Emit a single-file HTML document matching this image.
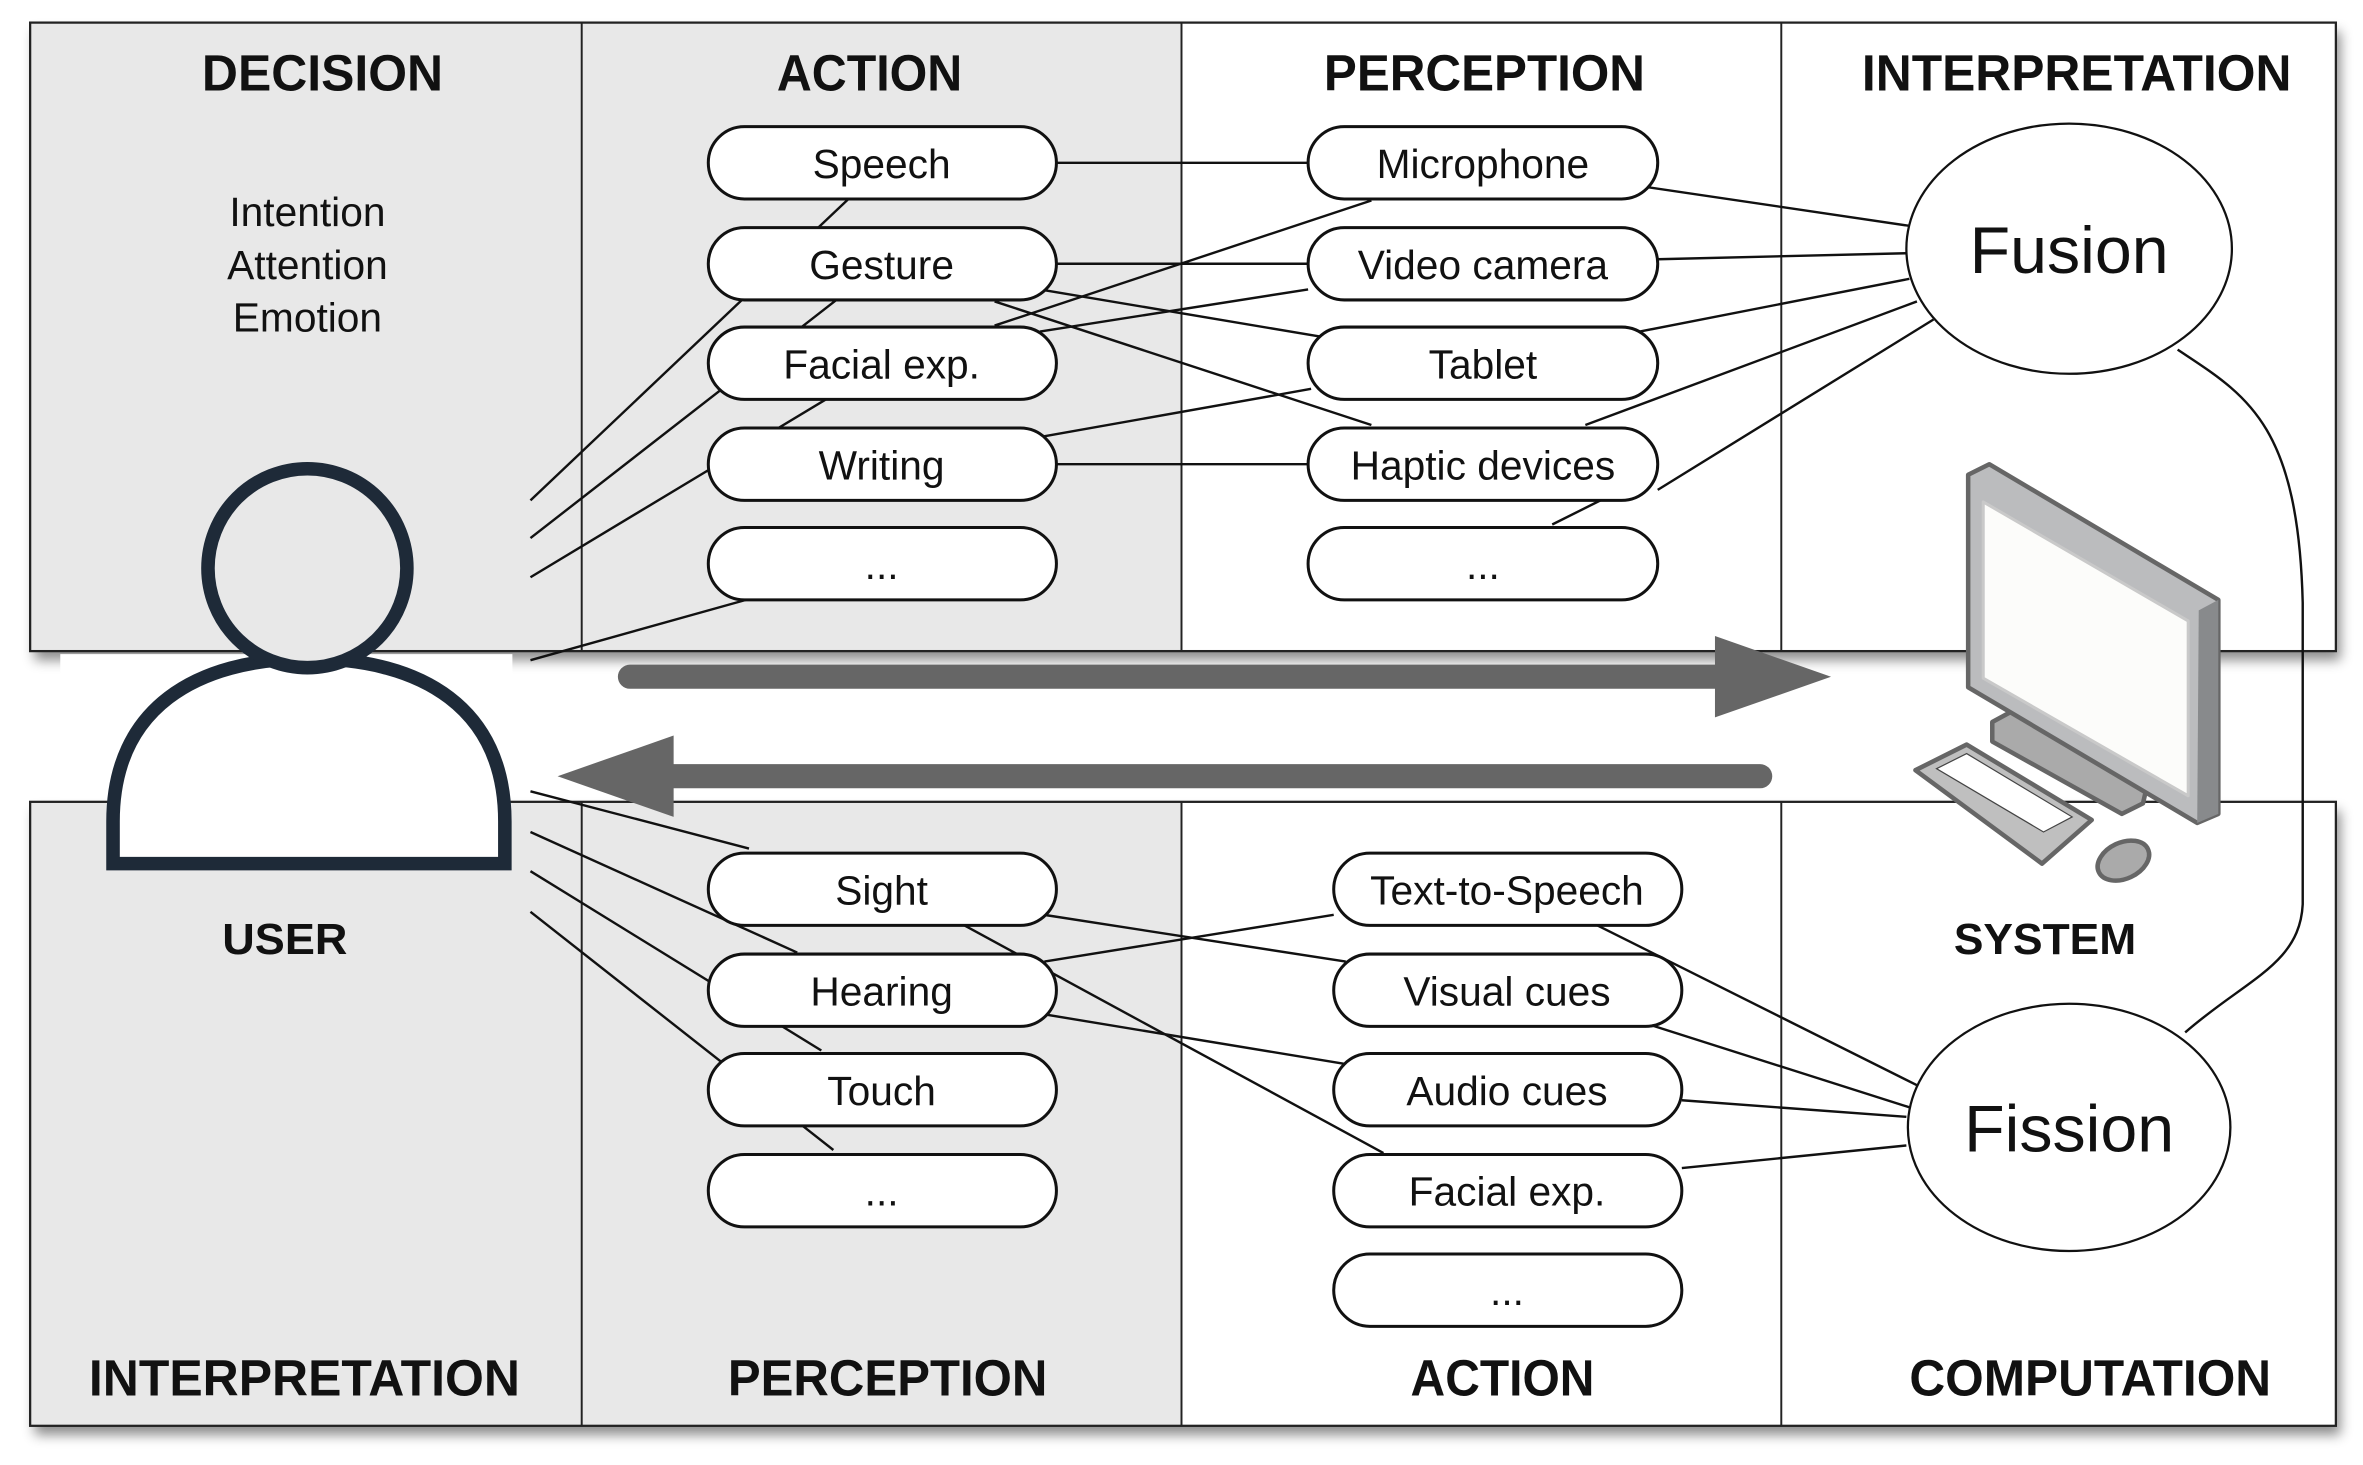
<!DOCTYPE html>
<html><head><meta charset="utf-8"><style>
html,body{margin:0;padding:0;background:#fff;width:2363px;height:1465px;overflow:hidden}
svg{display:block}
text{font-family:"Liberation Sans",sans-serif;fill:#111}
.h{font-weight:bold;font-size:34px;text-anchor:middle}
.p{font-size:27px;text-anchor:middle}
.l{stroke:#111;stroke-width:1.6;fill:none}
.pill{fill:#fff;stroke:#111;stroke-width:2}
</style></head><body>
<svg width="2363" height="1465" viewBox="0 0 1568 972" preserveAspectRatio="none" xmlns="http://www.w3.org/2000/svg">
<defs>
<filter id="sh" x="-5%" y="-5%" width="110%" height="120%"><feDropShadow dx="3" dy="6" stdDeviation="4" flood-color="#000" flood-opacity="0.45"/></filter>
</defs>
<g filter="url(#sh)">
<rect x="20" y="15" width="1530" height="417" fill="#fff"/>
</g>
<rect x="20" y="15" width="764" height="417" fill="#e8e8e8"/>
<rect x="20" y="15" width="1530" height="417" fill="none" stroke="#222" stroke-width="1.5"/>
<line x1="386" y1="15" x2="386" y2="432" stroke="#222" stroke-width="1.3"/>
<line x1="784" y1="15" x2="784" y2="432" stroke="#222" stroke-width="1.3"/>
<line x1="1182" y1="15" x2="1182" y2="432" stroke="#222" stroke-width="1.3"/>
<g filter="url(#sh)">
<rect x="20" y="532" width="1530" height="414" fill="#fff"/>
</g>
<rect x="20" y="532" width="764" height="414" fill="#e8e8e8"/>
<rect x="20" y="532" width="1530" height="414" fill="none" stroke="#222" stroke-width="1.5"/>
<line x1="386" y1="532" x2="386" y2="946" stroke="#222" stroke-width="1.3"/>
<line x1="784" y1="532" x2="784" y2="946" stroke="#222" stroke-width="1.3"/>
<line x1="1182" y1="532" x2="1182" y2="946" stroke="#222" stroke-width="1.3"/>
<rect x="40" y="434" width="300" height="96" fill="#fff"/>

<text class="h" x="214" y="60" textLength="160" lengthAdjust="spacingAndGlyphs">DECISION</text>
<text class="h" x="577" y="60" textLength="123" lengthAdjust="spacingAndGlyphs">ACTION</text>
<text class="h" x="985" y="60" textLength="213" lengthAdjust="spacingAndGlyphs">PERCEPTION</text>
<text class="h" x="1378" y="60" textLength="285" lengthAdjust="spacingAndGlyphs">INTERPRETATION</text>
<text class="h" x="202" y="926" textLength="286" lengthAdjust="spacingAndGlyphs">INTERPRETATION</text>
<text class="h" x="589" y="926" textLength="212" lengthAdjust="spacingAndGlyphs">PERCEPTION</text>
<text class="h" x="997" y="926" textLength="122" lengthAdjust="spacingAndGlyphs">ACTION</text>
<text class="h" x="1387" y="926" textLength="240" lengthAdjust="spacingAndGlyphs">COMPUTATION</text>
<text class="p" x="204" y="150">Intention</text>
<text class="p" x="204" y="185">Attention</text>
<text class="p" x="204" y="220">Emotion</text>
<text class="h" x="189" y="633" style="font-size:29px" textLength="83" lengthAdjust="spacingAndGlyphs">USER</text>
<text class="h" x="1357" y="633" style="font-size:29px" textLength="121" lengthAdjust="spacingAndGlyphs">SYSTEM</text>

<g class="l">
<line x1="352" y1="332" x2="563" y2="132"/>
<line x1="352" y1="357" x2="555" y2="199"/>
<line x1="352" y1="383" x2="548" y2="265"/>
<line x1="352" y1="438" x2="495" y2="398"/>
<line x1="701" y1="108" x2="868" y2="108"/>
<line x1="701" y1="175" x2="868" y2="175"/>
<line x1="690" y1="192" x2="880" y2="224"/>
<line x1="660" y1="200" x2="910" y2="282"/>
<line x1="660" y1="216" x2="910" y2="133"/>
<line x1="690" y1="220" x2="868" y2="192"/>
<line x1="690" y1="290" x2="870" y2="258"/>
<line x1="701" y1="308" x2="868" y2="308"/>
<line x1="1092" y1="124" x2="1268" y2="150"/>
<line x1="1100" y1="172" x2="1266" y2="168"/>
<line x1="1088" y1="220" x2="1267" y2="185"/>
<line x1="1052" y1="282" x2="1272" y2="200"/>
<line x1="1100" y1="325" x2="1283" y2="212"/>
<line x1="1030" y1="348" x2="1062" y2="332"/>
<line x1="352" y1="525" x2="497" y2="563"/>
<line x1="352" y1="552" x2="529" y2="632"/>
<line x1="352" y1="578" x2="545" y2="697"/>
<line x1="352" y1="605" x2="553" y2="763"/>
<line x1="693" y1="607" x2="893" y2="638"/>
<line x1="640" y1="614" x2="918" y2="765"/>
<line x1="693" y1="638" x2="885" y2="607"/>
<line x1="693" y1="673" x2="893" y2="706"/>
<line x1="1060" y1="614" x2="1272" y2="720"/>
<line x1="1095" y1="680" x2="1268" y2="735"/>
<line x1="1116" y1="730" x2="1265" y2="741"/>
<line x1="1116" y1="775" x2="1265" y2="760"/>
<path d="M1445,232 C1490,262 1525,280 1528,400 L1528,600 C1526,640 1490,650 1450,685"/>
</g>

<g class="pill">
<rect x="470" y="84" width="231" height="48" rx="24"/>
<rect x="470" y="151" width="231" height="48" rx="24"/>
<rect x="470" y="217" width="231" height="48" rx="24"/>
<rect x="470" y="284" width="231" height="48" rx="24"/>
<rect x="470" y="350" width="231" height="48" rx="24"/>
<rect x="868" y="84" width="232" height="48" rx="24"/>
<rect x="868" y="151" width="232" height="48" rx="24"/>
<rect x="868" y="217" width="232" height="48" rx="24"/>
<rect x="868" y="284" width="232" height="48" rx="24"/>
<rect x="868" y="350" width="232" height="48" rx="24"/>
<rect x="470" y="566" width="231" height="48" rx="24"/>
<rect x="470" y="633" width="231" height="48" rx="24"/>
<rect x="470" y="699" width="231" height="48" rx="24"/>
<rect x="470" y="766" width="231" height="48" rx="24"/>
<rect x="885" y="566" width="231" height="48" rx="24"/>
<rect x="885" y="633" width="231" height="48" rx="24"/>
<rect x="885" y="699" width="231" height="48" rx="24"/>
<rect x="885" y="766" width="231" height="48" rx="24"/>
<rect x="885" y="832" width="231" height="48" rx="24"/>
<ellipse cx="1373" cy="165" rx="108" ry="83" stroke-width="1.5"/>
<ellipse cx="1373" cy="748" rx="107" ry="82" stroke-width="1.5"/>
</g>
<text class="p" x="585" y="118">Speech</text>
<text class="p" x="585" y="185">Gesture</text>
<text class="p" x="585" y="251">Facial exp.</text>
<text class="p" x="585" y="318">Writing</text>
<text class="p" x="585" y="384">...</text>
<text class="p" x="984" y="118">Microphone</text>
<text class="p" x="984" y="185">Video camera</text>
<text class="p" x="984" y="251">Tablet</text>
<text class="p" x="984" y="318">Haptic devices</text>
<text class="p" x="984" y="384">...</text>
<text class="p" x="585" y="600">Sight</text>
<text class="p" x="585" y="667">Hearing</text>
<text class="p" x="585" y="733">Touch</text>
<text class="p" x="585" y="800">...</text>
<text class="p" x="1000" y="600">Text-to-Speech</text>
<text class="p" x="1000" y="667">Visual cues</text>
<text class="p" x="1000" y="733">Audio cues</text>
<text class="p" x="1000" y="800">Facial exp.</text>
<text class="p" x="1000" y="866">...</text>
<text class="p" x="1373" y="181" style="font-size:44px">Fusion</text>
<text class="p" x="1373" y="764" style="font-size:44px">Fission</text>

<line x1="418" y1="449" x2="1145" y2="449" stroke="#666" stroke-width="16" stroke-linecap="round"/>
<polygon points="1138,422 1215,449 1138,476" fill="#666"/>
<line x1="440" y1="515" x2="1168" y2="515" stroke="#666" stroke-width="16" stroke-linecap="round"/>
<polygon points="370,515 447,488 447,542" fill="#666"/>

<g fill="none" stroke="#1e2a38" stroke-width="9">
<path d="M75,573 L75,545 C75,470 130,437 205,437 C280,437 335,470 335,545 L335,573 Z" fill="#fff"/>
<circle cx="204" cy="377" r="66" fill="#e8e8e8"/>
</g>

<g stroke="#666" stroke-width="3" stroke-linejoin="round">
<polygon points="1322,479 1335,472 1425,520 1422,533 1408,540 1322,492" fill="#aaa"/>
<polygon points="1306,315 1320,308 1472,398 1472,540 1458,546 1306,456" fill="#bbbcbe"/>
<polygon points="1459,405 1472,398 1472,540 1458,546" fill="#888a8c" stroke-width="0"/>
<polygon points="1316,333 1452,412 1452,528 1316,450" fill="#fcfcfa" stroke="#c9c9c9" stroke-width="2"/>
<polygon points="1271,511 1305,494 1388,544 1355,573" fill="#bfbfbf"/>
<ellipse cx="1409" cy="571" rx="18" ry="12" transform="rotate(-25 1409 571)" fill="#aaa"/>
</g>
<g stroke="#444" stroke-width="0.8" fill="#fff">
<polygon points="1285,510 1305,500 1375,542 1356,552"/>
</g>
</svg>
</body></html>
